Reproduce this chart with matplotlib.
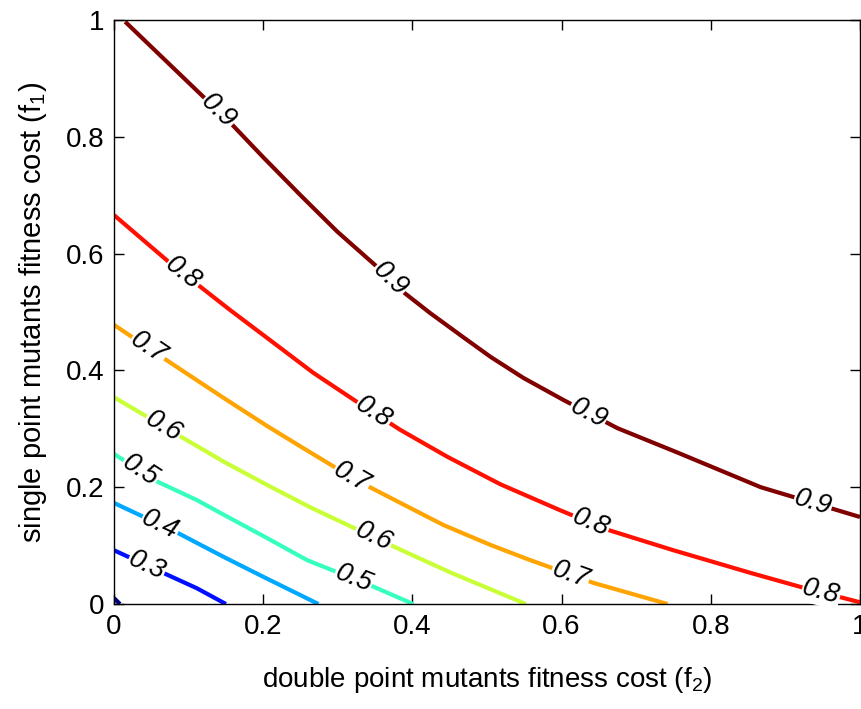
import numpy as np
import matplotlib
matplotlib.use('Agg')
import matplotlib.pyplot as plt

plt.rcParams['font.family'] = ['Liberation Sans', 'DejaVu Sans']
plt.rcParams['mathtext.fontset'] = 'custom'
plt.rcParams['mathtext.rm'] = 'Liberation Sans'
plt.rcParams['mathtext.it'] = 'Liberation Sans:italic'

# contour levels of the fixation probability and their colours (jet)
levels = [0.2, 0.3, 0.4, 0.5, 0.6, 0.7, 0.8, 0.9]
colors = ['#000080', '#0010ff', '#00a8ff', '#36ffc0', '#c9ff36', '#ffa400', '#ff1000', '#800000']

# iso-lines: f2 (x) and f1 (y) coordinates
f2_02 = [0.0, 0.008]
f1_02 = [0.010, 0.0]

f2_03 = [0.0, 0.063, 0.111, 0.150]
f1_03 = [0.092, 0.055, 0.027, 0.0]

f2_04 = [0.0, 0.085, 0.148, 0.201, 0.274]
f1_04 = [0.173, 0.122, 0.080, 0.046, 0.0]

f2_05 = [0.0, 0.054, 0.111, 0.157, 0.205, 0.259, 0.349, 0.401]
f1_05 = [0.257, 0.212, 0.178, 0.146, 0.113, 0.075, 0.029, 0.0]

f2_06 = [0.0, 0.085, 0.148, 0.205, 0.264, 0.322, 0.384, 0.451, 0.552]
f1_06 = [0.354, 0.290, 0.243, 0.204, 0.165, 0.130, 0.093, 0.054, 0.0]

f2_07 = [0.0, 0.064, 0.103, 0.148, 0.205, 0.251, 0.295, 0.340, 0.384, 0.442,
         0.505, 0.554, 0.643, 0.742]
f1_07 = [0.478, 0.423, 0.390, 0.352, 0.305, 0.269, 0.235, 0.202, 0.173, 0.135,
         0.101, 0.077, 0.036, 0.0]

f2_08 = [0.0, 0.075, 0.156, 0.209, 0.267, 0.334, 0.384, 0.447, 0.518, 0.599,
         0.662, 0.750, 0.854, 0.921, 1.0]
f1_08 = [0.666, 0.584, 0.503, 0.452, 0.396, 0.339, 0.298, 0.252, 0.205, 0.160,
         0.127, 0.092, 0.053, 0.029, 0.003]

f2_09 = [0.015, 0.156, 0.200, 0.250, 0.299, 0.353, 0.388, 0.424, 0.468,
         0.505, 0.549, 0.603, 0.675, 0.756, 0.867, 1.0]
f1_09 = [0.997, 0.824, 0.765, 0.700, 0.638, 0.577, 0.534, 0.498, 0.457,
         0.423, 0.387, 0.349, 0.301, 0.259, 0.200, 0.149]

lines_x = [f2_02, f2_03, f2_04, f2_05, f2_06, f2_07, f2_08, f2_09]
lines_y = [f1_02, f1_03, f1_04, f1_05, f1_06, f1_07, f1_08, f1_09]

# where the inline labels sit along each line (f2 value)
label_at = [[], [0.044], [0.062], [0.035, 0.321], [0.066, 0.348],
            [0.046, 0.319, 0.612], [0.093, 0.348, 0.639, 0.948],
            [0.140, 0.370, 0.636, 0.937]]

xticks = [0, 0.2, 0.4, 0.6, 0.8, 1]
yticks = [0, 0.2, 0.4, 0.6, 0.8, 1]

fig = plt.figure(figsize=(8.61, 7.09), dpi=100)
ax = fig.add_axes([0.1324, 0.1481, 0.8664, 0.8237])
ax.set_xlim(0, 1)
ax.set_ylim(0, 1)

for lev, c, xs, ys, labs in zip(levels, colors, lines_x, lines_y, label_at):
    ax.plot(xs, ys, color=c, lw=3.0, solid_capstyle='butt',
            solid_joinstyle='round', zorder=2)
    xs = np.array(xs)
    ys = np.array(ys)
    for lx in labs:
        ly = np.interp(lx, xs, ys)
        i = np.clip(np.searchsorted(xs, lx), 1, len(xs) - 1)
        ang = np.degrees(np.arctan2(ys[i] - ys[i - 1], xs[i] - xs[i - 1]))
        ax.text(lx, ly, '%g' % lev, fontsize=19.5, style='italic',
                rotation=ang, transform_rotates_text=True,
                ha='center', va='center', rotation_mode='anchor', zorder=3,
                bbox=dict(boxstyle='square,pad=0.02', fc='white', ec='none'))

ax.set_xticks(xticks)
ax.set_yticks(yticks)
ax.set_xticklabels(['%g' % t for t in xticks])
ax.set_yticklabels(['%g' % t for t in yticks])
ax.tick_params(direction='in', length=7, width=1, top=True, right=True,
               labelsize=20, pad=7)
for s in ax.spines.values():
    s.set_linewidth(1.0)

ax.set_xlabel(r'double point mutants fitness cost (f$_2$)', fontsize=20, labelpad=18)
ax.set_ylabel(r'single point mutants fitness cost (f$_1$)', fontsize=21, labelpad=12)

fig.savefig('out.png', dpi=100)
